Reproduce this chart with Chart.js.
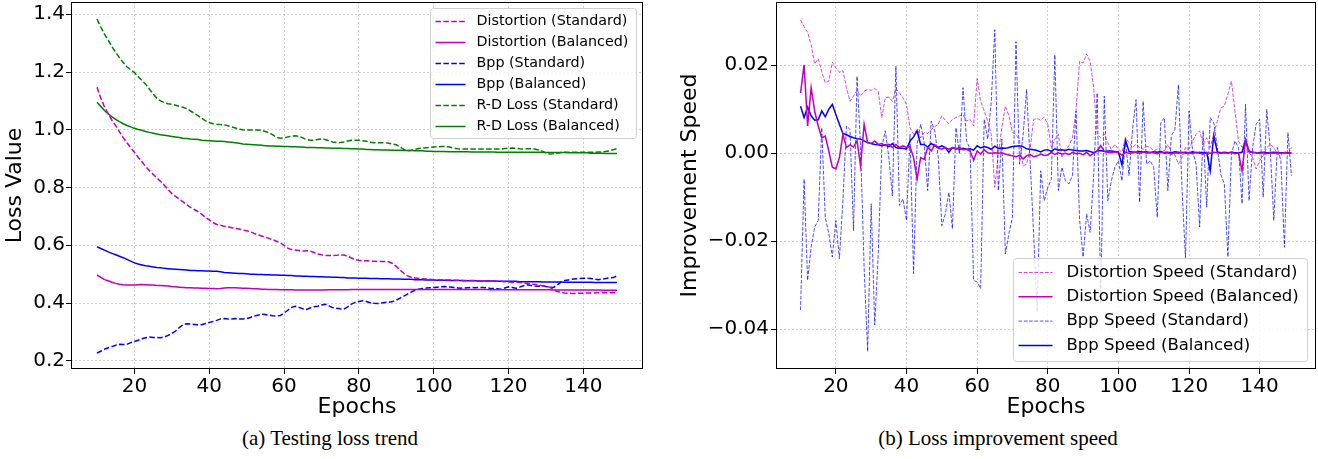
<!DOCTYPE html>
<html>
<head>
<meta charset="utf-8">
<script src="https://cdn.jsdelivr.net/npm/chart.js@4.4.1/dist/chart.umd.min.js"></script>
<style>
  body { margin: 0; background: #fff; width: 1318px; height: 459px; overflow: hidden; position: relative; }
  .panel { position: absolute; top: 0; }
  .cap { position: absolute; top: 424px; font-family: "Liberation Serif", "Times New Roman", serif; font-size: 21px; line-height: 28px; text-align: center; color: #000; }
</style>
</head>
<body>
<div class="panel" style="left:0"><canvas id="lossChart" width="659" height="420"></canvas></div>
<div class="panel" style="left:660px"><canvas id="speedChart" width="658" height="420"></canvas></div>
<div class="cap" style="left:0;width:660px">(a) Testing loss trend</div>
<div class="cap" style="left:660px;width:676px">(b) Loss improvement speed</div>
<script>
/* ====== Data ====== */
const epochs = [
  10, 11, 12, 13, 14, 15, 16, 17, 18, 19, 20, 21, 22, 23, 24, 25, 26, 27, 28, 29,
  30, 31, 32, 33, 34, 35, 36, 37, 38, 39, 40, 41, 42, 43, 44, 45, 46, 47, 48, 49,
  50, 51, 52, 53, 54, 55, 56, 57, 58, 59, 60, 61, 62, 63, 64, 65, 66, 67, 68, 69,
  70, 71, 72, 73, 74, 75, 76, 77, 78, 79, 80, 81, 82, 83, 84, 85, 86, 87, 88, 89,
  90, 91, 92, 93, 94, 95, 96, 97, 98, 99, 100, 101, 102, 103, 104, 105, 106, 107, 108, 109,
  110, 111, 112, 113, 114, 115, 116, 117, 118, 119, 120, 121, 122, 123, 124, 125, 126, 127, 128, 129,
  130, 131, 132, 133, 134, 135, 136, 137, 138, 139, 140, 141, 142, 143, 144, 145, 146, 147, 148, 149
];
const epochTicks = [20, 40, 60, 80, 100, 120, 140];
const lossTicks = [0.2, 0.4, 0.6, 0.8, 1.0, 1.2, 1.4];
const speedTicks = [-0.04, -0.02, 0.0, 0.02];

// (a) testing loss
const distStd = [
  1.147, 1.110, 1.079, 1.055, 1.033, 1.014, 0.993, 0.973, 0.955, 0.938,
  0.922, 0.905, 0.889, 0.873, 0.859, 0.846, 0.833, 0.821, 0.808, 0.793,
  0.779, 0.769, 0.760, 0.750, 0.740, 0.731, 0.724, 0.717, 0.707, 0.697,
  0.688, 0.679, 0.672, 0.669, 0.666, 0.664, 0.661, 0.658, 0.656, 0.653,
  0.650, 0.647, 0.641, 0.636, 0.632, 0.628, 0.624, 0.619, 0.614, 0.608,
  0.600, 0.590, 0.585, 0.584, 0.582, 0.580, 0.581, 0.580, 0.575, 0.570,
  0.567, 0.565, 0.565, 0.564, 0.565, 0.567, 0.566, 0.562, 0.556, 0.551,
  0.548, 0.546, 0.546, 0.545, 0.545, 0.544, 0.544, 0.544, 0.543, 0.537,
  0.527, 0.514, 0.503, 0.494, 0.489, 0.487, 0.485, 0.484, 0.483, 0.482,
  0.481, 0.481, 0.480, 0.480, 0.480, 0.479, 0.479, 0.479, 0.478, 0.478,
  0.478, 0.478, 0.477, 0.477, 0.477, 0.476, 0.476, 0.475, 0.475, 0.474,
  0.473, 0.472, 0.472, 0.471, 0.470, 0.468, 0.466, 0.464, 0.462, 0.460,
  0.458, 0.455, 0.447, 0.440, 0.437, 0.435, 0.434, 0.433, 0.433, 0.434,
  0.434, 0.435, 0.435, 0.435, 0.436, 0.436, 0.436, 0.436, 0.436, 0.436
];
const distBal = [
  0.497, 0.489, 0.481, 0.477, 0.472, 0.468, 0.465, 0.463, 0.462, 0.462,
  0.462, 0.463, 0.464, 0.463, 0.462, 0.462, 0.461, 0.461, 0.460, 0.459,
  0.457, 0.456, 0.455, 0.454, 0.453, 0.453, 0.452, 0.452, 0.451, 0.451,
  0.450, 0.450, 0.449, 0.450, 0.452, 0.453, 0.453, 0.453, 0.452, 0.451,
  0.451, 0.450, 0.449, 0.449, 0.448, 0.448, 0.447, 0.447, 0.447, 0.446,
  0.446, 0.446, 0.446, 0.445, 0.445, 0.445, 0.445, 0.445, 0.445, 0.445,
  0.445, 0.445, 0.446, 0.446, 0.446, 0.446, 0.446, 0.446, 0.447, 0.447,
  0.447, 0.447, 0.447, 0.447, 0.447, 0.447, 0.447, 0.447, 0.447, 0.447,
  0.447, 0.447, 0.447, 0.447, 0.447, 0.447, 0.447, 0.447, 0.447, 0.447,
  0.447, 0.447, 0.447, 0.447, 0.447, 0.447, 0.447, 0.447, 0.447, 0.447,
  0.447, 0.447, 0.447, 0.447, 0.447, 0.446, 0.446, 0.446, 0.446, 0.446,
  0.446, 0.446, 0.446, 0.446, 0.446, 0.446, 0.446, 0.446, 0.446, 0.446,
  0.446, 0.446, 0.445, 0.445, 0.445, 0.445, 0.445, 0.445, 0.445, 0.445,
  0.445, 0.445, 0.445, 0.445, 0.445, 0.444, 0.444, 0.444, 0.444, 0.444
];
const bppStd = [
  0.227, 0.233, 0.240, 0.245, 0.249, 0.254, 0.257, 0.256, 0.257, 0.263,
  0.267, 0.271, 0.276, 0.280, 0.282, 0.281, 0.281, 0.280, 0.282, 0.288,
  0.294, 0.303, 0.315, 0.325, 0.328, 0.327, 0.326, 0.325, 0.325, 0.329,
  0.333, 0.336, 0.340, 0.345, 0.346, 0.345, 0.345, 0.346, 0.345, 0.345,
  0.346, 0.350, 0.355, 0.358, 0.361, 0.360, 0.358, 0.356, 0.355, 0.357,
  0.365, 0.375, 0.385, 0.389, 0.385, 0.380, 0.378, 0.383, 0.387, 0.389,
  0.393, 0.396, 0.390, 0.384, 0.382, 0.380, 0.379, 0.387, 0.396, 0.402,
  0.405, 0.408, 0.405, 0.401, 0.399, 0.398, 0.400, 0.402, 0.403, 0.405,
  0.410, 0.417, 0.424, 0.431, 0.438, 0.444, 0.448, 0.450, 0.452, 0.453,
  0.454, 0.455, 0.456, 0.457, 0.456, 0.455, 0.453, 0.451, 0.452, 0.453,
  0.454, 0.453, 0.454, 0.454, 0.453, 0.451, 0.450, 0.449, 0.448, 0.452,
  0.456, 0.454, 0.451, 0.455, 0.460, 0.463, 0.461, 0.459, 0.458, 0.460,
  0.457, 0.455, 0.454, 0.462, 0.472, 0.478, 0.480, 0.482, 0.484, 0.485,
  0.486, 0.486, 0.485, 0.483, 0.481, 0.483, 0.485, 0.487, 0.488, 0.494
];
const bppBal = [
  0.595, 0.589, 0.583, 0.577, 0.572, 0.567, 0.562, 0.557, 0.551, 0.545,
  0.539, 0.535, 0.532, 0.529, 0.527, 0.525, 0.523, 0.522, 0.520, 0.519,
  0.518, 0.517, 0.516, 0.515, 0.514, 0.513, 0.513, 0.512, 0.512, 0.511,
  0.511, 0.510, 0.510, 0.508, 0.506, 0.505, 0.504, 0.503, 0.502, 0.502,
  0.501, 0.500, 0.500, 0.499, 0.499, 0.498, 0.498, 0.497, 0.497, 0.496,
  0.496, 0.495, 0.495, 0.494, 0.494, 0.493, 0.493, 0.492, 0.492, 0.491,
  0.491, 0.490, 0.490, 0.489, 0.489, 0.488, 0.488, 0.487, 0.487, 0.487,
  0.486, 0.486, 0.486, 0.485, 0.485, 0.485, 0.484, 0.484, 0.484, 0.483,
  0.483, 0.483, 0.482, 0.482, 0.482, 0.481, 0.481, 0.481, 0.480, 0.480,
  0.480, 0.479, 0.479, 0.479, 0.478, 0.478, 0.478, 0.478, 0.477, 0.477,
  0.477, 0.477, 0.476, 0.476, 0.476, 0.476, 0.476, 0.475, 0.475, 0.475,
  0.475, 0.475, 0.475, 0.474, 0.474, 0.474, 0.474, 0.474, 0.474, 0.473,
  0.473, 0.473, 0.473, 0.473, 0.473, 0.472, 0.472, 0.472, 0.472, 0.472,
  0.472, 0.472, 0.472, 0.471, 0.471, 0.471, 0.471, 0.471, 0.471, 0.471
];
const rdStd = [
  1.383, 1.356, 1.331, 1.310, 1.288, 1.268, 1.250, 1.233, 1.218, 1.208,
  1.198, 1.184, 1.171, 1.158, 1.141, 1.124, 1.109, 1.100, 1.094, 1.090,
  1.088, 1.085, 1.081, 1.078, 1.073, 1.065, 1.057, 1.049, 1.040, 1.031,
  1.025, 1.021, 1.019, 1.018, 1.017, 1.014, 1.010, 1.006, 1.002, 1.000,
  0.999, 0.999, 0.999, 0.999, 0.998, 0.994, 0.990, 0.982, 0.974, 0.971,
  0.972, 0.975, 0.978, 0.979, 0.977, 0.972, 0.966, 0.964, 0.964, 0.966,
  0.968, 0.966, 0.962, 0.958, 0.956, 0.956, 0.958, 0.961, 0.964, 0.964,
  0.964, 0.962, 0.960, 0.957, 0.955, 0.955, 0.955, 0.955, 0.953, 0.951,
  0.948, 0.940, 0.932, 0.927, 0.929, 0.932, 0.935, 0.937, 0.938, 0.939,
  0.940, 0.941, 0.942, 0.942, 0.941, 0.938, 0.935, 0.933, 0.933, 0.933,
  0.933, 0.933, 0.933, 0.933, 0.933, 0.933, 0.933, 0.933, 0.933, 0.935,
  0.936, 0.937, 0.936, 0.934, 0.933, 0.934, 0.934, 0.933, 0.930, 0.926,
  0.920, 0.916, 0.917, 0.919, 0.921, 0.922, 0.922, 0.922, 0.922, 0.922,
  0.922, 0.922, 0.922, 0.922, 0.923, 0.923, 0.925, 0.927, 0.931, 0.935
];
const rdBal = [
  1.095, 1.081, 1.067, 1.055, 1.045, 1.036, 1.028, 1.021, 1.015, 1.010,
  1.005, 1.001, 0.998, 0.994, 0.991, 0.988, 0.985, 0.983, 0.981, 0.979,
  0.977, 0.975, 0.973, 0.971, 0.970, 0.968, 0.967, 0.966, 0.964, 0.963,
  0.962, 0.961, 0.960, 0.960, 0.959, 0.958, 0.957, 0.955, 0.953, 0.951,
  0.950, 0.949, 0.948, 0.947, 0.946, 0.945, 0.944, 0.944, 0.943, 0.943,
  0.942, 0.942, 0.941, 0.941, 0.940, 0.940, 0.939, 0.939, 0.939, 0.938,
  0.938, 0.937, 0.937, 0.936, 0.936, 0.936, 0.935, 0.935, 0.934, 0.934,
  0.933, 0.933, 0.932, 0.932, 0.931, 0.931, 0.930, 0.930, 0.930, 0.929,
  0.929, 0.929, 0.928, 0.928, 0.928, 0.927, 0.927, 0.927, 0.926, 0.926,
  0.925, 0.925, 0.925, 0.925, 0.924, 0.924, 0.924, 0.924, 0.924, 0.924,
  0.923, 0.923, 0.923, 0.923, 0.923, 0.923, 0.923, 0.922, 0.922, 0.922,
  0.922, 0.922, 0.922, 0.922, 0.922, 0.922, 0.922, 0.922, 0.922, 0.922,
  0.921, 0.921, 0.921, 0.921, 0.921, 0.921, 0.920, 0.920, 0.920, 0.920,
  0.920, 0.920, 0.919, 0.919, 0.919, 0.919, 0.918, 0.918, 0.918, 0.918
];

// (b) improvement speed
const distSpeedStd = [
  0.0303, 0.0288, 0.0275, 0.0247, 0.0203, 0.0215, 0.0186, 0.0160, 0.0164, 0.0207,
  0.0194, 0.0184, 0.0188, 0.0149, 0.0118, 0.0130, 0.0143, 0.0130, 0.0141, 0.0145,
  0.0143, 0.0147, 0.0141, 0.0081, 0.0126, 0.0128, 0.0118, 0.0147, 0.0137, 0.0126,
  0.0111, 0.0058, 0.0043, 0.0054, 0.0035, 0.0047, 0.0045, 0.0054, 0.0060, 0.0066,
  0.0085, 0.0075, 0.0067, 0.0077, 0.0081, 0.0085, 0.0088, 0.0073, 0.0077, 0.0062,
  0.0170, 0.0118, 0.0096, 0.0073, 0.0043, -0.0078, -0.0002, 0.0058, 0.0107, 0.0085,
  0.0047, 0.0043, 0.0028, -0.0029, -0.0025, 0.0009, 0.0077, 0.0079, 0.0075, 0.0082,
  0.0066, 0.0013, 0.0032, 0.0043, -0.0010, 0.0009, 0.0017, 0.0035, 0.0096, 0.0209,
  0.0205, 0.0226, 0.0209, 0.0149, 0.0043, 0.0035, 0.0043, 0.0024, 0.0009, 0.0020,
  0.0009, 0.0002, 0.0035, 0.0024, 0.0013, 0.0020, 0.0013, 0.0009, 0.0016, 0.0013,
  0.0005, 0.0009, 0.0013, 0.0005, 0.0020, 0.0002, -0.0004, -0.0025, -0.0010, 0.0013,
  0.0009, 0.0028, 0.0043, 0.0051, 0.0020, 0.0035, 0.0013, 0.0043, 0.0073, 0.0103,
  0.0107, 0.0134, 0.0164, 0.0096, 0.0028, 0.0013, 0.0020, 0.0002, -0.0010, -0.0036,
  -0.0017, -0.0006, 0.0013, 0.0020, 0.0013, -0.0002, -0.0006, 0.0005, -0.0002, 0.0013
];
const distSpeedBal = [
  0.0137, 0.0201, 0.0062, 0.0149, 0.0096, 0.0062, 0.0035, 0.0039, 0.0005, -0.0032,
  -0.0036, -0.0010, 0.0043, 0.0013, 0.0019, 0.0014, 0.0028, -0.0029, 0.0066, 0.0024,
  0.0022, 0.0028, 0.0020, 0.0022, 0.0017, 0.0020, 0.0013, 0.0020, 0.0013, 0.0017,
  0.0013, 0.0015, -0.0010, -0.0059, -0.0010, -0.0014, 0.0013, 0.0005, 0.0019, 0.0011,
  0.0009, 0.0013, 0.0009, 0.0013, 0.0009, 0.0013, 0.0008, 0.0009, 0.0005, -0.0016,
  0.0005, -0.0002, 0.0008, 0.0001, 0.0000, 0.0001, 0.0000, 0.0001, -0.0002, -0.0004,
  -0.0006, -0.0008, -0.0005, -0.0013, -0.0006, -0.0003, -0.0008, -0.0006, -0.0002, -0.0005,
  -0.0004, 0.0002, -0.0003, 0.0001, -0.0002, 0.0000, -0.0003, 0.0002, -0.0001, 0.0000,
  -0.0004, 0.0002, -0.0006, 0.0000, 0.0005, 0.0017, 0.0004, 0.0002, 0.0001, 0.0003,
  0.0001, -0.0005, 0.0002, 0.0000, 0.0001, 0.0002, -0.0001, 0.0003, 0.0000, 0.0002,
  0.0001, -0.0001, 0.0002, 0.0000, 0.0001, -0.0002, 0.0001, 0.0000, 0.0002, 0.0000,
  0.0001, -0.0001, 0.0002, 0.0000, -0.0002, 0.0001, 0.0000, 0.0002, 0.0001, 0.0000,
  0.0001, 0.0000, 0.0002, -0.0001, 0.0001, -0.0040, 0.0030, 0.0005, 0.0002, 0.0001,
  0.0000, 0.0001, -0.0001, 0.0001, 0.0000, 0.0001, 0.0000, 0.0001, 0.0000, 0.0001
];
const bppSpeedStd = [
  -0.0357, -0.0059, -0.0289, -0.0214, -0.0168, -0.0153, 0.0058, -0.0146, -0.0183, -0.0236,
  -0.0153, -0.0240, -0.0108, 0.0062, 0.0054, -0.0176, 0.0175, 0.0013, -0.0259, -0.0451,
  -0.0115, -0.0391, -0.0229, 0.0013, 0.0051, -0.0010, -0.0097, 0.0198, -0.0119, -0.0104,
  -0.0153, 0.0043, -0.0274, 0.0020, 0.0066, 0.0024, -0.0085, 0.0073, 0.0051, -0.0010,
  -0.0165, -0.0138, -0.0089, -0.0172, 0.0058, -0.0002, 0.0149, 0.0028, 0.0009, -0.0289,
  -0.0293, -0.0308, 0.0077, 0.0032, 0.0118, 0.0281, -0.0085, 0.0032, -0.0229, -0.0183,
  -0.0146, 0.0254, -0.0025, 0.0039, 0.0145, -0.0017, -0.0183, -0.0361, -0.0040, -0.0108,
  -0.0078, -0.0060, 0.0224, -0.0085, -0.0032, -0.0063, -0.0070, -0.0050, 0.0096, -0.0150,
  -0.0236, -0.0138, -0.0180, -0.0050, 0.0137, -0.0340, 0.0130, -0.0108, -0.0063, -0.0032,
  -0.0017, -0.0063, 0.0028, -0.0051, 0.0054, 0.0122, -0.0112, 0.0118, -0.0025, -0.0017,
  -0.0032, -0.0146, 0.0069, 0.0081, -0.0085, 0.0040, 0.0054, 0.0156, -0.0078, -0.0240,
  0.0096, 0.0005, -0.0025, -0.0168, 0.0051, -0.0123, 0.0081, 0.0069, 0.0013, -0.0048,
  -0.0070, -0.0236, -0.0002, 0.0028, 0.0013, -0.0115, 0.0111, -0.0108, 0.0013, 0.0066,
  0.0077, -0.0100, 0.0100, 0.0009, -0.0153, 0.0013, -0.0017, -0.0214, 0.0047, -0.0051
];
const bppSpeedBal = [
  0.0107, 0.0081, 0.0105, 0.0085, 0.0075, 0.0076, 0.0096, 0.0083, 0.0100, 0.0111,
  0.0088, 0.0066, 0.0045, 0.0042, 0.0038, 0.0035, 0.0033, 0.0032, 0.0028, 0.0024,
  0.0022, 0.0020, 0.0019, 0.0017, 0.0019, 0.0015, 0.0022, 0.0013, 0.0011, 0.0011,
  0.0009, 0.0028, 0.0037, 0.0051, 0.0020, 0.0020, 0.0014, 0.0022, 0.0017, 0.0013,
  0.0017, 0.0013, 0.0002, 0.0013, 0.0011, 0.0009, 0.0011, 0.0009, 0.0010, 0.0007,
  0.0017, 0.0012, 0.0015, 0.0013, 0.0009, 0.0016, 0.0011, 0.0012, 0.0011, 0.0013,
  0.0015, 0.0016, 0.0017, 0.0015, 0.0010, 0.0009, 0.0008, 0.0006, 0.0003, 0.0007,
  0.0008, 0.0004, 0.0010, 0.0007, 0.0008, 0.0006, 0.0009, 0.0007, 0.0006, 0.0005,
  0.0005, 0.0006, 0.0004, 0.0001, 0.0005, 0.0006, 0.0004, 0.0005, 0.0005, 0.0004,
  0.0003, -0.0027, 0.0030, 0.0004, 0.0003, 0.0002, 0.0004, 0.0002, 0.0003, 0.0001,
  0.0003, 0.0002, 0.0004, 0.0001, 0.0002, 0.0001, 0.0003, 0.0002, 0.0001, 0.0002,
  0.0001, 0.0003, 0.0001, 0.0002, 0.0001, 0.0002, -0.0040, 0.0040, 0.0003, 0.0001,
  0.0002, 0.0001, 0.0002, 0.0001, 0.0001, 0.0002, 0.0030, 0.0003, 0.0002, 0.0001,
  0.0001, 0.0002, 0.0001, 0.0001, 0.0002, 0.0001, 0.0001, 0.0001, 0.0001, 0.0000
];

/* ====== Helpers ====== */
const FONT = '"DejaVu Sans", sans-serif';
const MAG = 'rgb(191,0,191)', BLUE = 'rgb(0,0,255)', GREEN = 'rgb(0,128,0)';

const pts = vals => vals.map((v, i) => ({ x: epochs[i], y: v }));

function line(label, vals, color, width, dash) {
  return {
    label, data: pts(vals), borderColor: color, borderWidth: width,
    borderDash: dash, pointRadius: 0, tension: 0, fill: false
  };
}

// matplotlib-ish frame + legend box drawn inside the plot area
const boxLegend = {
  id: 'boxLegend',
  afterDatasetsDraw(chart, args, o) {
    const { ctx, chartArea: a } = chart;
    ctx.save();
    ctx.strokeStyle = '#000';
    ctx.lineWidth = 1;
    ctx.strokeRect(a.left + 0.5, a.top + 0.5, a.right - a.left - 1, a.bottom - a.top - 1);

    const x0 = Math.round(a.right - o.right - o.width) + 0.5;
    const y0 = Math.round(o.bottom != null ? a.bottom - o.bottom - o.height : a.top + o.top) + 0.5;
    const r = 3;
    ctx.beginPath();
    ctx.moveTo(x0 + r, y0);
    ctx.arcTo(x0 + o.width, y0, x0 + o.width, y0 + o.height, r);
    ctx.arcTo(x0 + o.width, y0 + o.height, x0, y0 + o.height, r);
    ctx.arcTo(x0, y0 + o.height, x0, y0, r);
    ctx.arcTo(x0, y0, x0 + o.width, y0, r);
    ctx.closePath();
    ctx.fillStyle = 'rgba(255,255,255,0.8)';
    ctx.fill();
    ctx.strokeStyle = '#d0d0d0';
    ctx.stroke();

    ctx.font = o.fontSize + 'px ' + FONT;
    ctx.textBaseline = 'middle';
    chart.data.datasets.forEach((ds, i) => {
      const cy = y0 + o.firstRow + i * o.rowH;
      ctx.strokeStyle = ds.borderColor;
      ctx.lineWidth = ds.borderWidth;
      ctx.setLineDash(ds.borderDash || []);
      ctx.beginPath();
      ctx.moveTo(x0 + o.handleX, cy);
      ctx.lineTo(x0 + o.handleX + o.handleLen, cy);
      ctx.stroke();
      ctx.setLineDash([]);
      ctx.fillStyle = '#000';
      ctx.fillText(ds.label, x0 + o.textX, cy);
    });
    ctx.restore();
  }
};

function makeChart(id, cfg) {
  const grid = {
    color: 'rgba(170,170,170,0.7)', lineWidth: 0.8,
    tickColor: '#000', tickLength: 5, tickWidth: 1, tickBorderDash: []
  };
  return new Chart(document.getElementById(id), {
    type: 'line',
    data: { datasets: cfg.datasets },
    options: {
      responsive: false,
      animation: false,
      devicePixelRatio: 1,
      layout: { padding: { left: 0, right: cfg.padRight, top: 2, bottom: 0 } },
      scales: {
        x: {
          type: 'linear', min: 3.05, max: 155.95,
          afterBuildTicks: s => { s.ticks = epochTicks.map(v => ({ value: v })); },
          afterFit: s => { s.height = 51; s.paddingLeft = 0; s.paddingRight = 0; },
          ticks: { color: '#000', font: { family: FONT, size: 20 }, padding: 1, maxRotation: 0, autoSkip: false,
                   callback: v => String(v) },
          grid: grid,
          border: { display: false, dash: [2, 2] },
          title: { display: true, text: 'Epochs', color: '#000', font: { family: FONT, size: 22 }, padding: 0 }
        },
        y: {
          type: 'linear', min: cfg.yMin, max: cfg.yMax,
          afterBuildTicks: s => { s.ticks = cfg.yTicks.map(v => ({ value: v })); },
          afterFit: s => { s.width = cfg.yWidth; s.paddingTop = 0; s.paddingBottom = 0; },
          ticks: { color: '#000', font: { family: FONT, size: 20 }, padding: cfg.yPad, autoSkip: false,
                   callback: cfg.yFmt },
          grid: grid,
          border: { display: false, dash: [2, 2] },
          title: { display: true, text: cfg.yTitle, color: '#000', font: { family: FONT, size: 22 },
                   padding: { top: cfg.yTitlePad, bottom: 0 } }
        }
      },
      plugins: {
        legend: { display: false },
        tooltip: { enabled: false },
        boxLegend: cfg.legend
      }
    },
    plugins: [boxLegend]
  });
}

/* ====== (a) Testing loss trend ====== */
makeChart('lossChart', {
  datasets: [
    line('Distortion (Standard)', distStd, MAG, 1.5, [5.5, 2.4]),
    line('Distortion (Balanced)', distBal, MAG, 1.5, []),
    line('Bpp (Standard)', bppStd, BLUE, 1.5, [5.5, 2.4]),
    line('Bpp (Balanced)', bppBal, BLUE, 1.5, []),
    line('R-D Loss (Standard)', rdStd, GREEN, 1.5, [5.5, 2.4]),
    line('R-D Loss (Balanced)', rdBal, GREEN, 1.5, [])
  ],
  yMin: 0.1715, yMax: 1.4425, yTicks: lossTicks,
  yFmt: v => v.toFixed(1),
  yTitle: 'Loss Value', yWidth: 71, yPad: 1, yTitlePad: 2, padRight: 16,
  legend: { right: 7, top: 6, width: 206, height: 130, firstRow: 13, rowH: 21,
            handleX: 5, handleLen: 30, textX: 46, fontSize: 14.3 }
});

/* ====== (b) Loss improvement speed ====== */
const MAG_LIGHT = 'rgba(191,0,191,0.7)', BLUE_LIGHT = 'rgba(0,0,255,0.7)';
makeChart('speedChart', {
  datasets: [
    line('Distortion Speed (Standard)', distSpeedStd, MAG_LIGHT, 1, [3.7, 1.6]),
    line('Distortion Speed (Balanced)', distSpeedBal, MAG, 1.5, []),
    line('Bpp Speed (Standard)', bppSpeedStd, BLUE_LIGHT, 1, [3.7, 1.6]),
    line('Bpp Speed (Balanced)', bppSpeedBal, BLUE, 1.5, [])
  ],
  yMin: -0.0491, yMax: 0.0344, yTicks: speedTicks,
  yFmt: v => (v < 0 ? '\u2212' : '') + Math.abs(v).toFixed(2),
  yTitle: 'Improvement Speed', yWidth: 116, yPad: 2, yTitlePad: 17, padRight: 2,
  legend: { right: 9, bottom: 8, width: 294, height: 103, firstRow: 14, rowH: 24.3,
            handleX: 5, handleLen: 34, textX: 53, fontSize: 16.5 }
});
</script>
</body>
</html>
